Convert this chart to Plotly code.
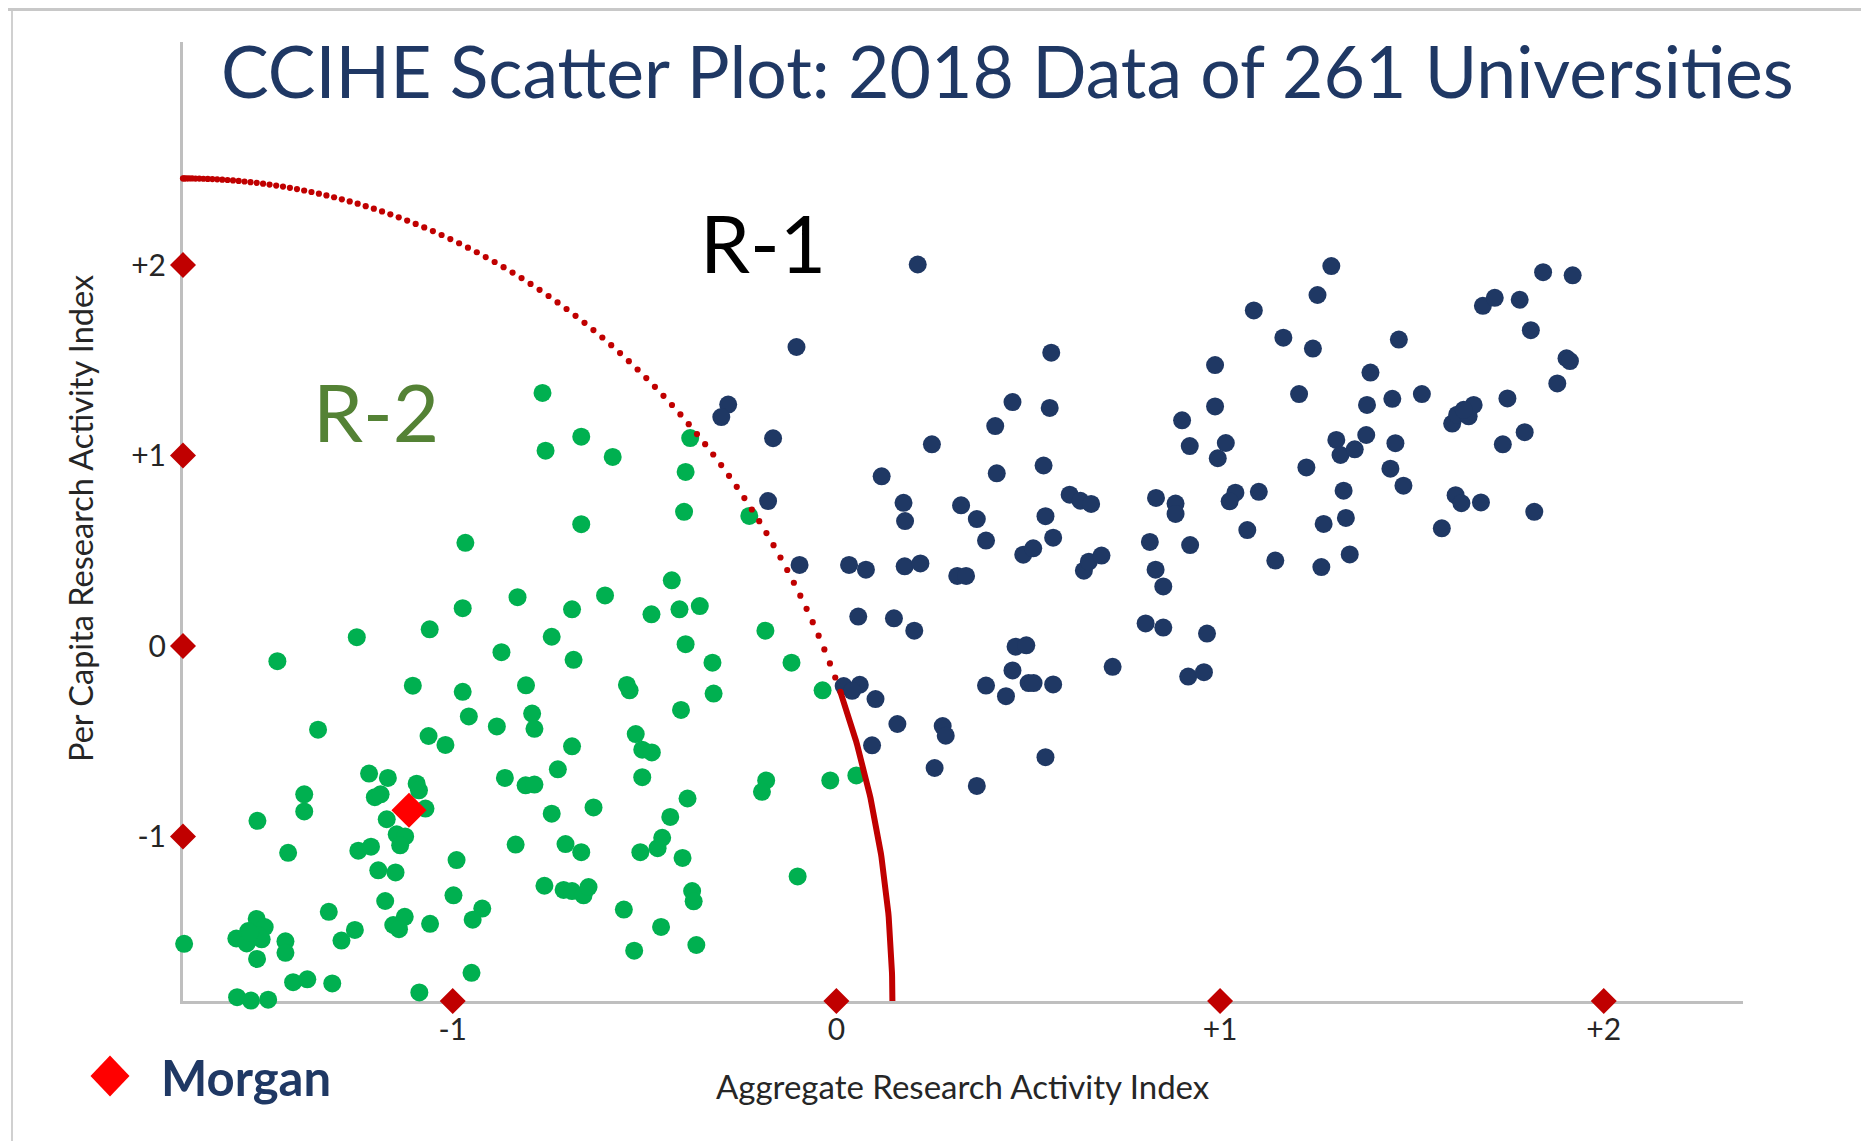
import numpy as np
import plotly.graph_objects as go

# ---------------- figure geometry ----------------
PAGE_OFFSET = 8          # default body margin of the html page
W, H = 1861, 1133
M_L, M_R, M_T, M_B = 175, 126, 34, 140

X_RANGE = [-1.703, 2.363]
Y_RANGE = [-1.863, 3.171]

TICK_VALS = [-1, 0, 1, 2]
TICK_TEXT = ["-1", "0", "+1", "+2"]

# ---------------- data ----------------
# R-2 universities (green)
r2_x = [-0.967, -0.831, -0.974, -1.060, -1.250, -1.457, -0.873, -1.104, -0.974, -0.958,
        -0.885, -1.351, -1.063, -1.019, -1.218, -1.169, -1.094, -1.088, -1.203, -1.188,
        -1.387, -1.387, -1.509, -1.071, -1.172, -1.146, -1.124, -1.137, -0.864, -0.836,
        -1.429, -1.246, -1.213, -1.194, -1.149, -0.990, -1.176, -0.998, -0.923, -0.948,
        -1.323, -1.155, -1.125, -1.140, -1.059, -1.255, -1.290,
        -1.511, -1.490, -1.533, -1.507, -1.564, -1.537, -1.498, -1.528,
        -1.436, -1.436, -1.510, -1.700, -1.416, -1.379, -1.314, -0.951, -1.087,
        -1.562, -1.526, -1.481,
        -0.766, -0.665, -0.758, -0.583, -0.381, -0.393, -0.397, -0.665, -0.227, -0.429,
        -0.603, -0.689, -0.482, -0.409, -0.356, -0.185, -0.742, -0.393, -0.685, -0.323,
        -0.117, -0.809, -0.546, -0.539, -0.320, -0.036, -0.793, -0.787, -0.405, -0.523,
        -0.506, -0.481, -0.689, -0.726, -0.506, -0.183, -0.194, -0.016, 0.052, -0.810,
        -0.787, -0.742, -0.633, -0.388, -0.433, -0.706, -0.665, -0.511, -0.466, -0.454,
        -0.401, -0.101, -0.761, -0.711, -0.689, -0.659, -0.646, -0.376, -0.372, -0.554,
        -0.457, -0.527, -0.365]
r2_y = [0.542, 0.257, 0.199, 0.088, 0.047, -0.079, -0.032, -0.208, -0.240, -0.369,
        -0.422, -0.439, -0.472, -0.519, -0.669, -0.692, -0.722, -0.757, -0.793, -0.778,
        -0.778, -0.868, -0.917, -0.853, -0.909, -0.988, -0.999, -1.046, -0.692, -1.042,
        -1.085, -1.074, -1.053, -1.177, -1.188, -1.123, -1.338, -1.308, -1.378, -1.436,
        -1.395, -1.464, -1.421, -1.486, -1.458, -1.490, -1.546,
        -1.432, -1.475, -1.496, -1.518, -1.535, -1.561, -1.539, -1.505,
        -1.550, -1.610, -1.642, -1.563, -1.764, -1.749, -1.771, -1.715, -1.818,
        -1.843, -1.861, -1.856,
        1.329, 1.099, 1.026, 0.993, 1.092, 0.914, 0.705, 0.640, 0.683, 0.345,
        0.266, 0.193, 0.167, 0.193, 0.210, 0.081, 0.049, 0.010, -0.072, -0.087,
        -0.087, -0.206, -0.204, -0.232, -0.249, -0.232, -0.354, -0.434, -0.335, -0.462,
        -0.544, -0.558, -0.526, -0.647, -0.688, -0.705, -0.765, -0.705, -0.679, -0.731,
        -0.727, -0.880, -0.847, -0.800, -0.897, -1.039, -1.082, -1.082, -1.061, -1.006,
        -1.112, -1.209, -1.258, -1.280, -1.286, -1.308, -1.265, -1.286, -1.340, -1.383,
        -1.474, -1.599, -1.569]

# R-1 universities (navy)
r1_x = [0.212, -0.104, -0.282, -0.300, -0.165, 0.560, 0.459, 0.556, 0.414, 0.249,
        0.118, 0.418, 0.540, -0.178, 0.175, 0.179, 0.325, 0.366, 0.390, 0.608,
        0.636, 0.664, 0.545, 0.565, 0.487, 0.513, 0.645, 0.658, 0.691, -0.096,
        0.033, 0.077, 0.178, 0.219, 0.315, 0.338, 0.057, 0.150, 0.203, 0.467,
        0.495, 0.459, 0.390, 0.442, 0.501, 0.514, 0.565, 0.720, 0.019, 0.061,
        0.041, 0.102, 0.159, 0.093, 0.277, 0.285, 0.256, 0.366, 0.545,
        1.290, 1.254, 1.088, 1.165, 1.242, 0.987, 1.466, 1.392, 1.206, 0.987,
        1.383, 1.449, 1.526, 0.901, 0.921, 1.015, 0.994, 1.303, 1.314, 1.351,
        1.381, 1.457, 1.225, 1.444, 1.478, 0.833, 0.884, 0.884, 1.040, 1.025,
        1.101, 1.322, 1.071, 0.817, 0.922, 1.270, 1.328, 0.832, 0.852, 1.144,
        1.264, 1.338, 0.806, 0.852, 0.966, 0.917, 0.958,
        1.605, 1.618, 1.648, 1.661, 1.635, 1.685, 1.716, 1.781, 1.842, 1.919,
        1.810, 1.903, 1.912, 1.879, 1.749, 1.737, 1.794, 1.614, 1.629, 1.680,
        1.578, 1.819]
r1_y = [2.003, 1.570, 1.268, 1.202, 1.091, 1.540, 1.281, 1.250, 1.155, 1.059,
        0.891, 0.907, 0.948, 0.761, 0.752, 0.656, 0.739, 0.667, 0.554, 0.795,
        0.763, 0.746, 0.682, 0.569, 0.480, 0.513, 0.396, 0.443, 0.475, 0.426,
        0.426, 0.401, 0.419, 0.434, 0.368, 0.368, 0.155, 0.146, 0.081, -0.003,
        0.004, -0.128, -0.207, -0.263, -0.194, -0.194, -0.201, -0.109, -0.210, -0.203,
        -0.235, -0.278, -0.409, -0.521, -0.420, -0.470, -0.640, -0.734, -0.583,
        1.995, 1.843, 1.762, 1.619, 1.562, 1.475, 1.609, 1.436, 1.323, 1.258,
        1.266, 1.298, 1.323, 1.185, 1.050, 1.066, 0.986, 1.082, 1.003, 1.033,
        1.108, 1.065, 0.938, 0.931, 0.842, 0.778, 0.748, 0.694, 0.805, 0.760,
        0.810, 0.816, 0.609, 0.547, 0.530, 0.641, 0.673, 0.401, 0.313, 0.449,
        0.415, 0.481, 0.119, 0.097, 0.066, -0.160, -0.137,
        1.168, 1.215, 1.206, 1.266, 1.240, 1.786, 1.828, 1.818, 1.963, 1.946,
        1.658, 1.511, 1.496, 1.379, 1.300, 1.059, 1.123, 0.792, 0.750, 0.754,
        0.618, 0.705]

morgan_x = [-1.114]
morgan_y = [-0.862]

# R-1 / R-2 boundary: quarter ellipse anchored at the axes corner
ARC_RX = 1.849
ARC_RY = 4.318
ARC_SPLIT_Y = -0.24   # dotted above, solid below

# ---------------- styles ----------------
FONT = "Lato, 'Open Sans', sans-serif"
GREEN = "#00B050"
NAVY = "#1F3864"
DARK_RED = "#C00000"
BRIGHT_RED = "#FF0000"
AXIS_GRAY = "#BFBFBF"
TEXT_DARK = "#262626"

PW = W - M_L - M_R
PH = H - M_T - M_B


def px_x(px):
    """page pixel -> paper x"""
    return (px - PAGE_OFFSET - M_L) / PW


def px_y(py):
    """page pixel -> paper y"""
    return (H - M_B - (py - PAGE_OFFSET)) / PH


# ---------------- boundary curve ----------------
x0, y0 = X_RANGE[0], Y_RANGE[0]
theta_split = np.arccos((ARC_SPLIT_Y - y0) / ARC_RY)
s = np.linspace(0, 1, 92)
th_dot = theta_split * s ** 1.45
dot_x = x0 + ARC_RX * np.sin(th_dot)
dot_y = y0 + ARC_RY * np.cos(th_dot)
th_sol = np.linspace(theta_split, np.pi / 2, 80)
sol_x = x0 + ARC_RX * np.sin(th_sol)
sol_y = y0 + ARC_RY * np.cos(th_sol)

fig = go.Figure()

fig.add_trace(go.Scatter(x=r2_x, y=r2_y, mode="markers", cliponaxis=False,
                         marker=dict(size=18, color=GREEN), name="R-2", showlegend=False))
fig.add_trace(go.Scatter(x=r1_x, y=r1_y, mode="markers", cliponaxis=False,
                         marker=dict(size=18, color=NAVY), name="R-1", showlegend=False))
fig.add_trace(go.Scatter(x=dot_x, y=dot_y, mode="markers", cliponaxis=False,
                         marker=dict(size=6.2, color=DARK_RED), showlegend=False))
fig.add_trace(go.Scatter(x=sol_x, y=sol_y, mode="lines", cliponaxis=False,
                         line=dict(width=6, color=DARK_RED), showlegend=False))
# axis tick diamonds
fig.add_trace(go.Scatter(x=TICK_VALS, y=[Y_RANGE[0]] * len(TICK_VALS), mode="markers",
                         cliponaxis=False, marker=dict(symbol="diamond", size=20, color=DARK_RED),
                         showlegend=False))
fig.add_trace(go.Scatter(x=[X_RANGE[0]] * len(TICK_VALS), y=TICK_VALS, mode="markers",
                         cliponaxis=False, marker=dict(symbol="diamond", size=20, color=DARK_RED),
                         showlegend=False))
fig.add_trace(go.Scatter(x=morgan_x, y=morgan_y, mode="markers", cliponaxis=False,
                         marker=dict(symbol="diamond", size=27, color=BRIGHT_RED),
                         name="Morgan", showlegend=False))

axis_common = dict(showline=True, linecolor=AXIS_GRAY, linewidth=3, showgrid=False,
                   zeroline=False, ticks="", tickvals=TICK_VALS, ticktext=TICK_TEXT,
                   tickfont=dict(family=FONT, size=30, color=TEXT_DARK), layer="below traces")

fig.update_xaxes(range=X_RANGE, ticklabelstandoff=0, **axis_common)
fig.update_yaxes(range=Y_RANGE, ticklabelstandoff=8, **axis_common)

annotations = [
    dict(text="CCIHE Scatter Plot: 2018 Data of 261 Universities", x=px_x(1007), y=px_y(70),
         xref="paper", yref="paper", xanchor="center", yanchor="middle", showarrow=False,
         font=dict(family=FONT, size=71.5, color=NAVY)),
    dict(text="R-1", x=px_x(763), y=px_y(242), xref="paper", yref="paper",
         xanchor="center", yanchor="middle", showarrow=False,
         font=dict(family=FONT, size=80, color="#000000")),
    dict(text="R-2", x=px_x(376), y=px_y(411), xref="paper", yref="paper",
         xanchor="center", yanchor="middle", showarrow=False,
         font=dict(family=FONT, size=80, color="#548235")),
    dict(text="Aggregate Research Activity Index", x=px_x(963), y=px_y(1086),
         xref="paper", yref="paper", xanchor="center", yanchor="middle", showarrow=False,
         font=dict(family=FONT, size=33, color=TEXT_DARK)),
    dict(text="Per Capita Research Activity Index", x=px_x(81), y=px_y(519),
         xref="paper", yref="paper", xanchor="center", yanchor="middle", showarrow=False,
         textangle=-90, font=dict(family=FONT, size=32.5, color=TEXT_DARK)),
    dict(text="<b>Morgan</b>", x=px_x(159), y=px_y(1077), xref="paper", yref="paper",
         xanchor="left", yanchor="middle", showarrow=False,
         font=dict(family=FONT, size=49, color=NAVY)),
]

# legend key diamond and slide frame
cx, cy, hw, hh = 110, 1076, 19.5, 20.5
diamond_path = "M {} {} L {} {} L {} {} L {} {} Z".format(
    px_x(cx), px_y(cy - hh), px_x(cx + hw), px_y(cy), px_x(cx), px_y(cy + hh), px_x(cx - hw), px_y(cy))
shapes = [
    dict(type="path", path=diamond_path, xref="paper", yref="paper",
         fillcolor=BRIGHT_RED, line=dict(width=0)),
    dict(type="line", xref="paper", yref="paper", x0=px_x(12), x1=px_x(12),
         y0=px_y(PAGE_OFFSET), y1=px_y(H + PAGE_OFFSET),
         line=dict(color="#D0D0D0", width=2)),
    dict(type="line", xref="paper", yref="paper", x0=px_x(PAGE_OFFSET), x1=px_x(W + PAGE_OFFSET),
         y0=px_y(PAGE_OFFSET + 1.5), y1=px_y(PAGE_OFFSET + 1.5),
         line=dict(color="#C8C8C8", width=3)),
]

fig.update_layout(
    width=W, height=H, autosize=False,
    margin=dict(l=M_L, r=M_R, t=M_T, b=M_B, pad=0),
    paper_bgcolor="white", plot_bgcolor="white",
    showlegend=False,
    annotations=annotations,
    shapes=shapes,
    font=dict(family=FONT),
)

fig.write_html("out.html")
